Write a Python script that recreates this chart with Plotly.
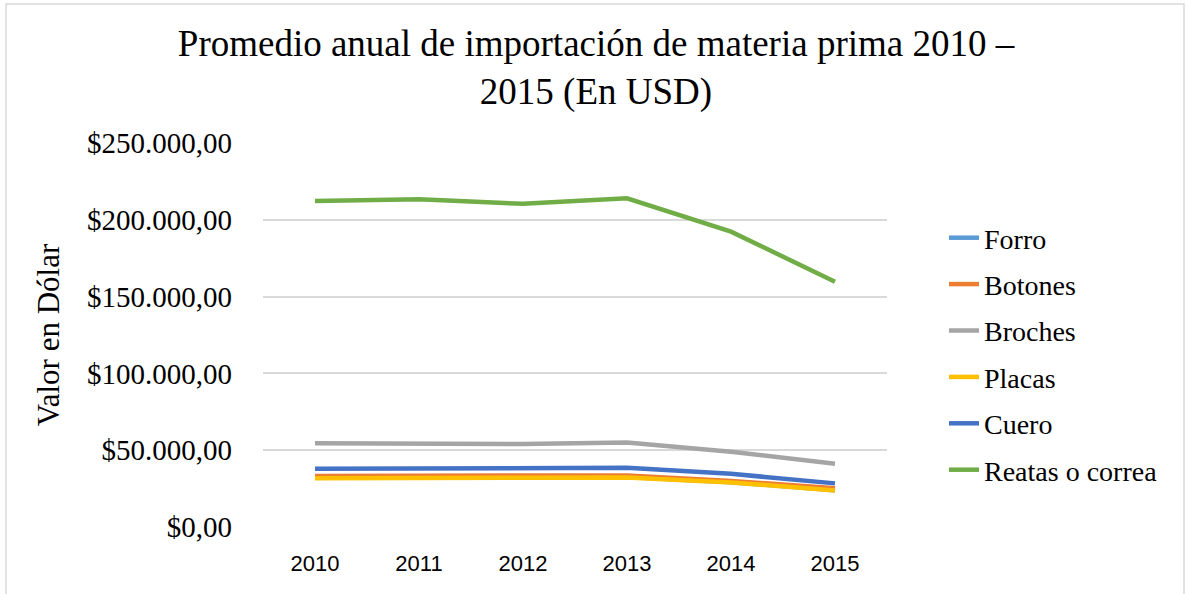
import plotly.graph_objects as go

years = ["2010", "2011", "2012", "2013", "2014", "2015"]
forro = [32000, 32000, 31900, 32500, 29200, 24000]
botones = [33200, 33200, 33000, 33600, 30000, 25200]
broches = [54500, 54400, 54000, 55000, 49000, 41200]
placas = [31800, 31800, 31700, 32300, 29000, 23800]
cuero = [38000, 38200, 37800, 38500, 34600, 28400]
reatas = [212200, 213300, 210400, 214000, 192300, 159700]

series = [
    ("Forro", forro, "#5B9BD5"),
    ("Botones", botones, "#ED7D31"),
    ("Broches", broches, "#A5A5A5"),
    ("Placas", placas, "#FFC000"),
    ("Cuero", cuero, "#4472C4"),
    ("Reatas o correa", reatas, "#70AD47"),
]

fig = go.Figure()
for i, (name, vals, col) in enumerate(series):
    fig.add_trace(go.Scatter(x=years, y=vals, name=name, mode="lines",
                             line=dict(color=col, width=4.5),
                             legendgroup=f"g{i}"))

W, H = 1186, 594
L, R, T, B = 263, 887, 143, 527
fig.update_layout(
    width=W, height=H,
    margin=dict(l=L, r=W - R, t=T, b=H - B, autoexpand=False),
    paper_bgcolor="white", plot_bgcolor="white",
    separators=",.",
    title=dict(text="Promedio anual de importación de materia prima 2010 –<br>2015 (En USD)",
               x=596 / W, xanchor="center", y=1 - 56 / H, yanchor="top",
               font=dict(family="Liberation Serif", size=37, color="#000000")),
    font=dict(family="Liberation Serif", color="#000000"),
    legend=dict(x=(944 - L) / (R - L), xanchor="left", y=(B - 213) / (B - T), yanchor="top",
                font=dict(family="Liberation Serif", size=28, color="#000000"),
                tracegroupgap=7, bgcolor="rgba(0,0,0,0)"),
    showlegend=True,
)
fig.update_xaxes(type="category", range=[-0.5, 5.5], showgrid=False, showline=False,
                 zeroline=False, ticks="", ticklabelstandoff=21,
                 tickfont=dict(family="Liberation Sans", size=22, color="#000000"))
fig.update_yaxes(range=[0, 250000], tickvals=[0, 50000, 100000, 150000, 200000, 250000],
                 tickformat="$,.2f", showgrid=True, gridcolor="#d9d9d9", gridwidth=1.5,
                 zeroline=False, showline=False, ticks="", ticklabelstandoff=30,
                 tickfont=dict(family="Liberation Serif", size=29, color="#000000"),
                 title=dict(text="Valor en Dólar", standoff=18,
                            font=dict(family="Liberation Serif", size=31, color="#000000")))

fig.add_shape(type="rect", xref="paper", yref="paper",
              x0=(6 - L) / (R - L), x1=(1184 - L) / (R - L),
              y0=(B - 620) / (B - T), y1=(B - 4) / (B - T),
              line=dict(color="#d9d9d9", width=1.5), fillcolor="rgba(0,0,0,0)", layer="below")

fig.write_html("out.html", config={"displayModeBar": False},
               post_script="document.body.style.margin='0';")
